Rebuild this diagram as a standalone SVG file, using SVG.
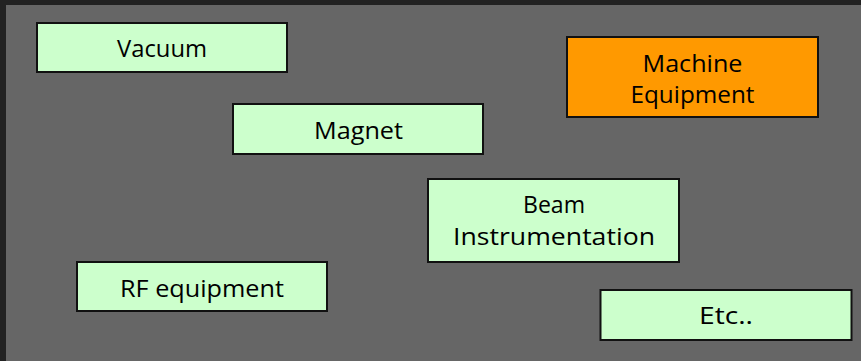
<svg xmlns="http://www.w3.org/2000/svg" width="861" height="361" viewBox="0 0 861 361">
  <style>
    .box { fill: #CCFFCC; stroke: #111111; stroke-width: 2; }
    .hot { fill: #FF9900; stroke: #111111; stroke-width: 2; }
    .lbl { font-family: "Open Sans", "DejaVu Sans", sans-serif; font-size: 24px; fill: #000000; text-anchor: middle; }
  </style>
  <!-- slide background with dark frame on top and left -->
  <rect x="0" y="0" width="861" height="361" fill="#222222"/>
  <rect x="6" y="5" width="855" height="356" fill="#666666"/>

  <g id="vacuum">
    <rect class="box" x="37" y="23" width="250" height="49"/>
    <text class="lbl" x="162" y="57" textLength="90" lengthAdjust="spacingAndGlyphs">Vacuum</text>
  </g>
  <g id="machine-equipment">
    <rect class="hot" x="567" y="37" width="251" height="80"/>
    <text class="lbl" x="692.5" y="72" textLength="100" lengthAdjust="spacingAndGlyphs">Machine</text>
    <text class="lbl" x="692.5" y="103" textLength="124" lengthAdjust="spacingAndGlyphs">Equipment</text>
  </g>
  <g id="magnet">
    <rect class="box" x="233" y="104" width="250" height="50"/>
    <text class="lbl" x="358.5" y="139" textLength="89" lengthAdjust="spacingAndGlyphs">Magnet</text>
  </g>
  <g id="beam-instrumentation">
    <rect class="box" x="428" y="179" width="251" height="83"/>
    <text class="lbl" x="554" y="213" textLength="62" lengthAdjust="spacingAndGlyphs">Beam</text>
    <text class="lbl" x="554" y="245" textLength="202" lengthAdjust="spacingAndGlyphs">Instrumentation</text>
  </g>
  <g id="rf-equipment">
    <rect class="box" x="77" y="262" width="250" height="49"/>
    <text class="lbl" x="202" y="297" textLength="164" lengthAdjust="spacingAndGlyphs">RF equipment</text>
  </g>
  <g id="etc">
    <rect class="box" x="600.5" y="290" width="251" height="50"/>
    <text class="lbl" x="726" y="324" textLength="54" lengthAdjust="spacingAndGlyphs">Etc..</text>
  </g>
  <g id="connectors"/>
</svg>
